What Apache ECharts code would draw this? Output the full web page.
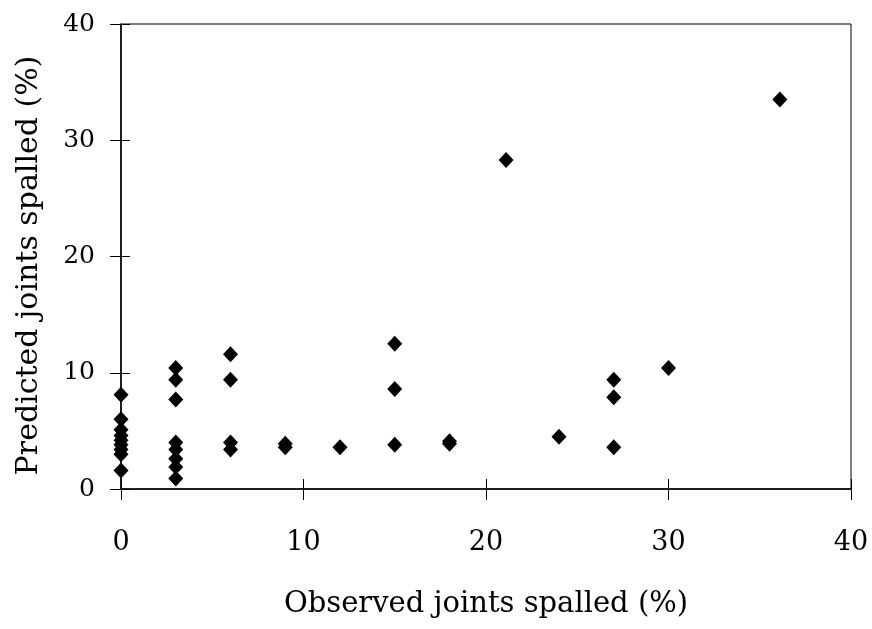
<!DOCTYPE html>
<html><head><meta charset="utf-8">
<script src="https://cdn.jsdelivr.net/npm/echarts@6/dist/echarts.min.js"></script>
<style>html,body{margin:0;padding:0;background:#fff}#c{width:872px;height:629px}</style>
</head><body><div id="c"></div>
<script>
const observed = [0,0,0,0,0,0,0,0,0, 3,3,3,3,3,3,3,3, 6,6,6,6, 9,9, 12, 15,15,15, 18,18, 21.1, 24, 27,27,27, 30, 36.1];
const predicted = [8.1,6.0,5.1,4.6,4.2,3.8,3.4,3.0,1.6, 10.4,9.4,7.7,4.0,3.4,2.6,1.9,0.9, 11.6,9.4,4.0,3.4, 3.9,3.6, 3.6, 12.5,8.6,3.8, 4.1,3.9, 28.3, 4.5, 9.4,7.9,3.6, 10.4, 33.5];
const xTicks = [0,10,20,30,40];
const yTicks = [0,10,20,30,40];
const xTitle = 'Observed joints spalled (%)';
const yTitle = 'Predicted joints spalled (%)';

const font = 'DejaVu Serif';
const chart = echarts.init(document.getElementById('c'));
const axisCommon = (ticks) => ({
  type: 'value', min: ticks[0], max: ticks[ticks.length-1], interval: ticks[1]-ticks[0],
  splitLine: {show: false}
});
chart.setOption({
  animation: false,
  grid: {left: 121, right: 21, top: 24, bottom: 140, containLabel: false, outerBoundsMode: 'none',
         show: true, borderColor: '#000', borderWidth: 1},
  xAxis: [
    Object.assign(axisCommon(xTicks), {
      position: 'bottom',
      name: xTitle, nameLocation: 'middle', nameGap: 101,
      nameTextStyle: {fontFamily: font, fontSize: 29, color: '#000'},
      axisLine: {lineStyle: {color: '#000', width: 1.5}},
      axisTick: {inside: false, length: 11, lineStyle: {color: '#000', width: 1}},
      axisLabel: {margin: 40, fontFamily: font, fontSize: 27, color: '#000'}
    }),
    Object.assign(axisCommon(xTicks), {
      position: 'bottom', axisLine: {show: false},
      axisTick: {inside: true, length: 10, lineStyle: {color: '#000', width: 1}},
      axisLabel: {show: false}
    })
  ],
  yAxis: [
    Object.assign(axisCommon(yTicks), {
      position: 'left',
      name: yTitle, nameLocation: 'middle', nameGap: 77, nameRotate: 90,
      nameTextStyle: {fontFamily: font, fontSize: 30, color: '#000', padding: [0, 18, 0, 0]},
      axisLine: {lineStyle: {color: '#000', width: 1.5}},
      axisTick: {inside: false, length: 11, lineStyle: {color: '#000', width: 1}},
      axisLabel: {margin: 26, fontFamily: font, fontSize: 25, color: '#000'}
    }),
    Object.assign(axisCommon(yTicks), {
      position: 'left', axisLine: {show: false},
      axisTick: {inside: true, length: 9, lineStyle: {color: '#000', width: 1}},
      axisLabel: {show: false}
    })
  ],
  series: [{
    type: 'scatter', xAxisIndex: 0, yAxisIndex: 0,
    symbol: 'diamond', symbolSize: [15, 16],
    itemStyle: {color: '#000', opacity: 1},
    data: observed.map((x, i) => [x, predicted[i]])
  }]
});
</script></body></html>
